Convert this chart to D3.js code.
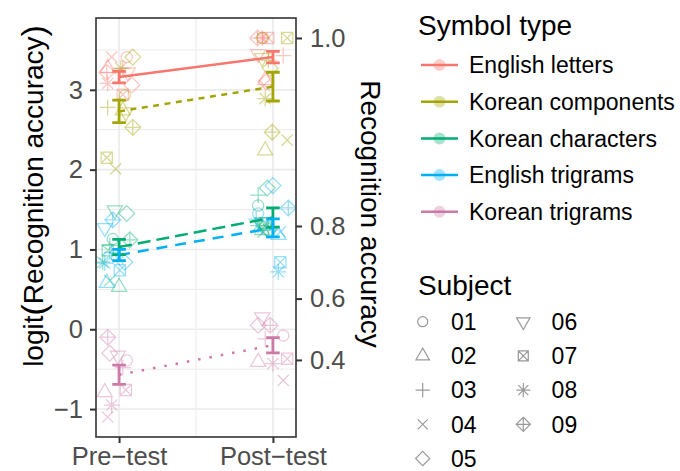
<!DOCTYPE html>
<html><head><meta charset="utf-8">
<script src="https://cdn.jsdelivr.net/npm/d3@7"></script>
<style>body{margin:0;background:#fff}svg{display:block;font-family:"Liberation Sans",Arial,sans-serif}</style>
</head><body><svg id="c" width="680" height="471"></svg>
<script>
// ---------- data ----------
const timepoints = ["Pre\u2212test", "Post\u2212test"];
const symbolTypes = ["English letters", "Korean components", "Korean characters", "English trigrams", "Korean trigrams"];
const subjects = ["01", "02", "03", "04", "05", "06", "07", "08", "09"];
const colors = ["#F8766D", "#A3A500", "#00AD70", "#00B0F6", "#CC79A7"];
const dashes = [null, "6,5.5", "13,6", "11,8", "2.5,9"];

const meanPre  = [3.16, 2.73, 1.03, 0.93, -0.57];
const meanPost = [3.41, 3.04, 1.40, 1.27, -0.20];
const sePre    = [0.073, 0.14, 0.095, 0.07, 0.12];
const sePost   = [0.073, 0.18, 0.12, 0.113, 0.095];

// individual subject values (logit), one row per symbol type, subjects 01..09
const prePoints = [
  [3.41, 3.27, 3.27, 3.41, 3.06, 3.22, 2.94, 3.08, 3.22],
  [2.93, 2.74, 2.78, 2.01, 3.41, 2.72, 2.15, 3.27, 2.53],
  [1.13, 0.53, 1.05, 0.61, 1.45, 1.49, 0.99, 0.84, 1.12],
  [0.93, 0.58, 0.96, 0.89, 0.84, 1.27, 0.74, 0.83, 1.37],
  [-0.39, -0.79, -0.48, -1.10, -0.30, -0.33, -0.76, -0.95, -0.10]
];
const postPoints = [
  [3.65, 3.12, 3.43, 3.06, 3.10, 3.45, 3.65, 3.65, 3.65],
  [3.65, 2.24, 3.37, 2.37, 3.27, 3.40, 3.65, 2.89, 2.47],
  [1.55, 1.24, 1.68, 1.22, 1.77, 1.34, 1.33, 1.30, 1.24],
  [1.45, 1.18, 1.38, 1.22, 1.80, 1.30, 0.84, 0.72, 1.52],
  [-0.08, -0.41, -0.12, -0.64, 0.05, 0.15, -0.37, -0.43, 0.05]
];
// horizontal jitter (in category units)
const preJitter = [
  [0.05, -0.074, 0.024, -0.048, 0.083, 0.057, 0.024, -0.074, -0.08],
  [0.037, 0.024, -0.074, -0.022, 0.089, 0.044, -0.08, 0.011, 0.089],
  [-0.041, 0, -0.06, -0.06, 0.05, -0.028, -0.074, -0.106, 0.07],
  [-0.028, -0.08, -0.048, -0.008, 0.037, -0.093, 0.005, -0.093, -0.041],
  [0.05, -0.093, 0.024, -0.074, -0.061, -0.008, 0.044, -0.048, -0.074]
];
const postJitter = [
  [-0.064, -0.05, 0.067, -0.057, -0.044, -0.096, -0.03, -0.07, -0.1],
  [-0.07, -0.05, -0.03, 0.093, -0.018, -0.07, 0.093, -0.05, -0.005],
  [-0.096, -0.07, -0.096, -0.063, -0.037, -0.07, -0.05, -0.096, -0.03],
  [-0.096, 0.035, -0.109, 0.048, 0, -0.07, 0.048, 0.035, 0.1],
  [0.067, -0.096, -0.05, 0.067, -0.096, -0.07, 0.093, 0, -0.018]
];
const yTicks = [-1, 0, 1, 2, 3];
const yMinor = [-0.5, 0.5, 1.5, 2.5, 3.5];
const secBreaks = [0.4, 0.6, 0.8, 1.0];
const secLabels = ["0.4", "0.6", "0.8", "1.0"];
const secEps = 0.0267;

// ---------- layout ----------
const svg = d3.select("#c");
const P = {l: 96, r: 296, t: 18, b: 437};
const x = d3.scaleLinear().domain([0.85, 2.15]).range([P.l, P.r]);
const y = d3.scaleLinear().domain([-1.35, 3.9]).range([P.b, P.t]);
const secT = p => Math.log((p + secEps) / (1 - p + secEps));

function shapePath(k, r) {
  const d = r * Math.SQRT2;
  const R = r * 1.5551, xc = R * 0.866, yc = R * 0.5;
  const plus = h => `M${-h},0H${h}M0,${-h}V${h}`;
  const cross = h => `M${-h},${-h}L${h},${h}M${-h},${h}L${h},${-h}`;
  const diamond = h => `M0,${-h}L${h},0L0,${h}L${-h},0Z`;
  switch (k) {
    case 0: return `M${-r},0a${r},${r} 0 1,0 ${2*r},0a${r},${r} 0 1,0 ${-2*r},0Z`;
    case 1: return `M0,${-R}L${xc},${yc}L${-xc},${yc}Z`;
    case 2: return plus(d);
    case 3: return cross(r);
    case 4: return diamond(d);
    case 5: return `M0,${R}L${xc},${-yc}L${-xc},${-yc}Z`;
    case 6: return `M${-r},${-r}H${r}V${r}H${-r}Z` + cross(r);
    case 7: return plus(d) + cross(r);
    case 8: return diamond(d) + plus(d);
  }
}

// grid
const grid = svg.append("g");
grid.selectAll(".ymin").data(yMinor).join("line")
  .attr("x1", P.l).attr("x2", P.r).attr("y1", d => y(d)).attr("y2", d => y(d))
  .attr("stroke", "#EBEBEB").attr("stroke-width", 1);
grid.selectAll(".xmin").data([1.5]).join("line")
  .attr("y1", P.t).attr("y2", P.b).attr("x1", d => x(d)).attr("x2", d => x(d))
  .attr("stroke", "#EBEBEB").attr("stroke-width", 1);
grid.selectAll(".ymaj").data(yTicks).join("line")
  .attr("x1", P.l).attr("x2", P.r).attr("y1", d => y(d)).attr("y2", d => y(d))
  .attr("stroke", "#EBEBEB").attr("stroke-width", 1.6);
grid.selectAll(".xmaj").data([1, 2]).join("line")
  .attr("y1", P.t).attr("y2", P.b).attr("x1", d => x(d)).attr("x2", d => x(d))
  .attr("stroke", "#EBEBEB").attr("stroke-width", 1.6);

// points
const pts = [];
symbolTypes.forEach((t, ti) => {
  subjects.forEach((s, si) => {
    pts.push({ti, si, tx: 1 + preJitter[ti][si], v: prePoints[ti][si]});
    pts.push({ti, si, tx: 2 + postJitter[ti][si], v: postPoints[ti][si]});
  });
});
svg.append("g").selectAll("path").data(pts).join("path")
  .attr("transform", d => `translate(${x(d.tx)},${y(d.v)})`)
  .attr("d", d => shapePath(d.si, 5.6))
  .attr("fill", "none").attr("stroke", d => colors[d.ti])
  .attr("stroke-opacity", 0.42).attr("stroke-width", 1.25);

// mean lines
svg.append("g").selectAll("line").data(symbolTypes).join("line")
  .attr("x1", x(1)).attr("x2", x(2))
  .attr("y1", (d, i) => y(meanPre[i])).attr("y2", (d, i) => y(meanPost[i]))
  .attr("stroke", (d, i) => colors[i]).attr("stroke-width", 2.5)
  .attr("stroke-dasharray", (d, i) => dashes[i]);

// error bars
const eb = [];
symbolTypes.forEach((t, i) => {
  eb.push({i, tx: 1, m: meanPre[i], se: sePre[i]});
  eb.push({i, tx: 2, m: meanPost[i], se: sePost[i]});
});
const ebg = svg.append("g").selectAll("g").data(eb).join("g")
  .attr("stroke", d => colors[d.i]).attr("stroke-width", 2.8).attr("fill", "none");
ebg.append("path").attr("d", d => {
  const cx = x(d.tx), w = 6.8, y1 = y(d.m + d.se), y2 = y(d.m - d.se);
  return `M${cx - w},${y1}H${cx + w}M${cx},${y1}V${y2}M${cx - w},${y2}H${cx + w}`;
});

// panel border
svg.append("rect").attr("x", P.l).attr("y", P.t).attr("width", P.r - P.l).attr("height", P.b - P.t)
  .attr("fill", "none").attr("stroke", "#333").attr("stroke-width", 1.6);

// axes
function styleAxis(g) {
  g.select(".domain").remove();
  g.selectAll(".tick line").attr("stroke", "#333").attr("stroke-width", 2);
  g.selectAll(".tick text").attr("fill", "#4D4D4D").attr("font-size", 25.5)
    .attr("font-family", "Liberation Sans, Arial, sans-serif");
}
svg.append("g").attr("transform", `translate(${P.l},0)`)
  .call(d3.axisLeft(y).tickValues(yTicks).tickSize(6).tickPadding(7)
    .tickFormat(d => d < 0 ? "\u2212" + Math.abs(d) : String(d)))
  .call(styleAxis);
svg.append("g").attr("transform", `translate(${P.r},0)`)
  .call(d3.axisRight(y).tickValues(secBreaks.map(secT)).tickSize(6).tickPadding(8)
    .tickFormat((d, i) => secLabels[i]))
  .call(styleAxis);
svg.append("g").attr("transform", `translate(0,${P.b})`)
  .call(d3.axisBottom(x).tickValues([1, 2]).tickSize(6).tickPadding(4)
    .tickFormat((d, i) => timepoints[i]))
  .call(styleAxis);

// axis titles
const lt = svg.append("text").attr("transform", "translate(43,196) rotate(-90)")
  .attr("text-anchor", "middle").attr("font-size", 28).attr("fill", "#000");
lt.append("tspan").text("logit");
lt.append("tspan").attr("font-size", 34).attr("dy", 2).text("(");
lt.append("tspan").attr("dy", -2).text("Recognition accuracy");
lt.append("tspan").attr("font-size", 34).attr("dy", 2).text(")");
svg.append("text").attr("transform", "translate(361,214) rotate(90)")
  .attr("text-anchor", "middle").attr("font-size", 28).attr("fill", "#000")
  .text("Recognition accuracy");

// legend: Symbol type
const lg = svg.append("g");
lg.append("text").attr("x", 418).attr("y", 35).attr("font-size", 28).text("Symbol type");
const li = lg.selectAll(".li").data(symbolTypes).join("g")
  .attr("transform", (d, i) => `translate(0,${65 + 36.7 * i})`);
li.append("line").attr("x1", 421).attr("x2", 458).attr("stroke", (d, i) => colors[i]).attr("stroke-width", 2.5);
li.append("circle").attr("cx", 439.5).attr("r", 6).attr("fill", (d, i) => colors[i]).attr("fill-opacity", 0.35);
li.append("text").attr("x", 469).attr("y", 8.2).attr("font-size", 23).text(d => d);

// legend: Subject
lg.append("text").attr("x", 418).attr("y", 295).attr("font-size", 28).text("Subject");
const si = lg.selectAll(".si").data(subjects).join("g")
  .attr("transform", (d, i) => `translate(${i < 5 ? 0 : 100.6},${321.7 + 34.2 * (i % 5)})`);
si.append("path").attr("transform", "translate(422.7,0)").attr("d", (d, i) => shapePath(i, 5))
  .attr("fill", "none").attr("stroke", "#9A9A9A").attr("stroke-width", 1.2);
si.append("text").attr("x", 451).attr("y", 8.2).attr("font-size", 23).text(d => d);
</script></body></html>
